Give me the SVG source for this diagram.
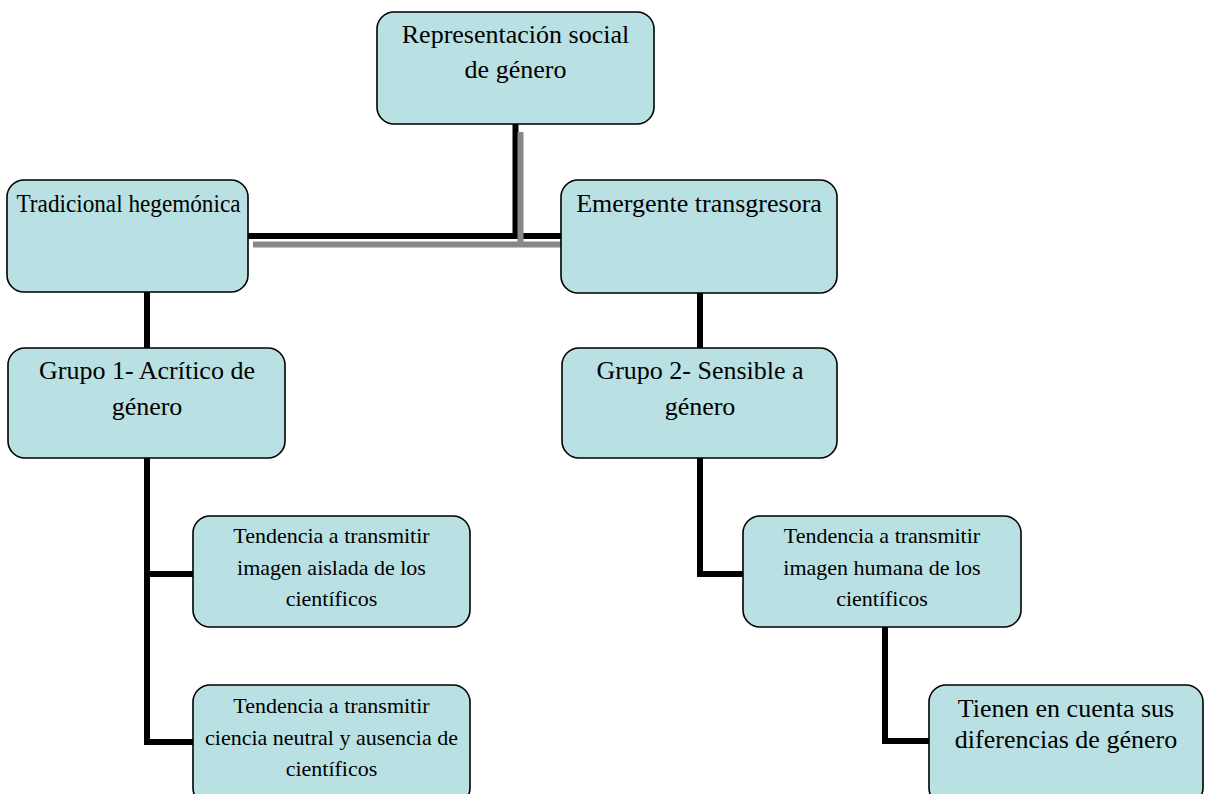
<svg xmlns="http://www.w3.org/2000/svg" width="1205" height="794" viewBox="0 0 1205 794">
<style>
.box{fill:#B9E0E3;stroke:#000;stroke-width:1.6}
.t{font-family:"Liberation Serif","Times New Roman",serif;fill:#000;text-anchor:middle}
.big{font-size:26px}
.sm{font-size:22px}
.k{stroke:#000;stroke-width:6;fill:none}
.g{stroke:#888;stroke-width:6;fill:none}
</style>
<rect width="1205" height="794" fill="#fff"/>
<g id="connectors">
<line class="k" x1="515.5" y1="124" x2="515.5" y2="239"/>
<line class="k" x1="248" y1="236" x2="561" y2="236"/>
<line class="g" x1="253" y1="244.5" x2="561" y2="244.5"/>
<line class="g" x1="520.5" y1="132" x2="520.5" y2="247"/>
<line class="k" x1="147" y1="292" x2="147" y2="348"/>
<line class="k" x1="700" y1="293" x2="700" y2="348"/>
<polyline class="k" points="147,458 147,742 193,742"/>
<line class="k" x1="147" y1="574" x2="193" y2="574"/>
<polyline class="k" points="700,458 700,574 743,574"/>
<polyline class="k" points="885,627 885,741 929,741"/>
</g>
<g id="n0">
<rect class="box" x="377" y="12" width="277" height="112" rx="17"/>
<text class="t big" x="515.5" y="43">Representación social</text>
<text class="t big" x="515.5" y="78">de género</text>
</g>
<g id="n1">
<rect class="box" x="7" y="180" width="241" height="112" rx="17"/>
<text class="t" font-size="25" x="128.5" y="212" textLength="224" lengthAdjust="spacingAndGlyphs">Tradicional hegemónica</text>
</g>
<g id="n2">
<rect class="box" x="561" y="180" width="276" height="113" rx="17"/>
<text class="t big" x="699" y="212">Emergente transgresora</text>
</g>
<g id="n3">
<rect class="box" x="8" y="348" width="277" height="110" rx="17"/>
<text class="t big" x="147" y="379">Grupo 1- Acrítico de</text>
<text class="t big" x="147" y="415">género</text>
</g>
<g id="n4">
<rect class="box" x="562" y="348" width="275" height="110" rx="17"/>
<text class="t big" x="700" y="379">Grupo 2- Sensible a</text>
<text class="t big" x="700" y="415">género</text>
</g>
<g id="n5">
<rect class="box" x="193" y="516" width="277" height="111" rx="17"/>
<text class="t sm" x="331.5" y="543">Tendencia a transmitir</text>
<text class="t sm" x="331.5" y="574.5">imagen aislada de los</text>
<text class="t sm" x="331.5" y="606">científicos</text>
</g>
<g id="n6">
<rect class="box" x="193" y="685" width="277" height="120" rx="17"/>
<text class="t sm" x="331.5" y="713">Tendencia a transmitir</text>
<text class="t sm" x="331.5" y="744.5">ciencia neutral y ausencia de</text>
<text class="t sm" x="331.5" y="776">científicos</text>
</g>
<g id="n7">
<rect class="box" x="743" y="516" width="278" height="111" rx="17"/>
<text class="t sm" x="882" y="543">Tendencia a transmitir</text>
<text class="t sm" x="882" y="574.5">imagen humana de los</text>
<text class="t sm" x="882" y="606">científicos</text>
</g>
<g id="n8">
<rect class="box" x="929" y="685" width="274" height="120" rx="17"/>
<text class="t big" x="1066" y="717">Tienen en cuenta sus</text>
<text class="t big" x="1066" y="748">diferencias de género</text>
</g>
</svg>
